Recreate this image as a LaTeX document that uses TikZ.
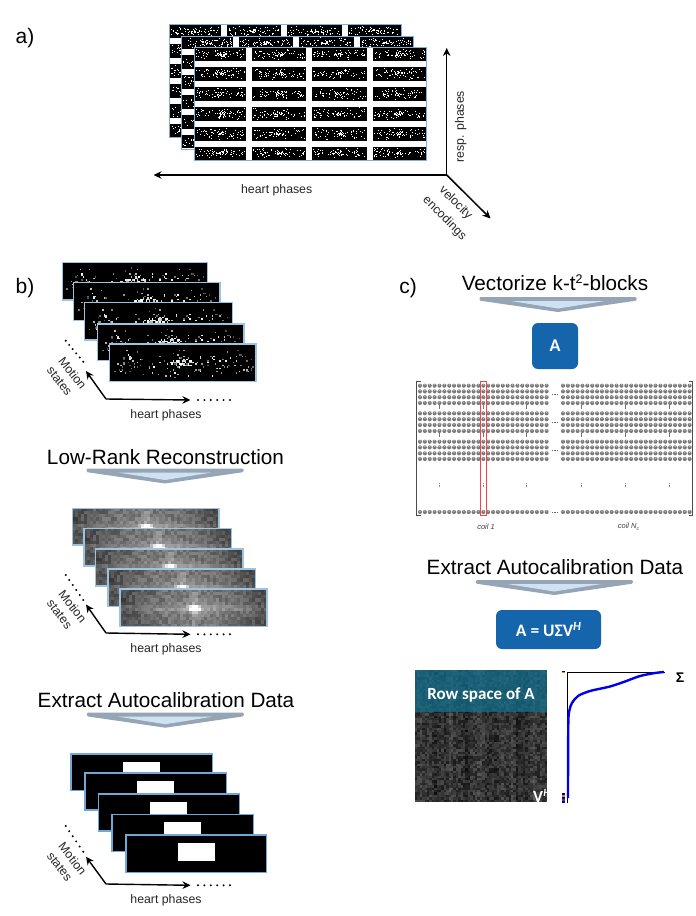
\documentclass[tikz,border=0pt]{standalone}
\usepackage{fontspec}
\setmainfont{Liberation Sans}
\newfontfamily\calib{Carlito}
\usetikzlibrary{arrows.meta,calc}
\definecolor{bbtn}{HTML}{1565AC}
\definecolor{fra}{HTML}{7FB0D8}
\definecolor{frb}{HTML}{9CC3E0}
\definecolor{frc}{HTML}{6FA8D6}
\definecolor{chevo}{HTML}{96A5B5}
\definecolor{cheve}{HTML}{CFE2F3}
\definecolor{tealo}{HTML}{12708F}
\definecolor{plotb}{HTML}{0000F0}
\tikzset{
  axisarrow/.style={line width=1.5pt,-{Stealth[length=8pt,width=7.5pt]}},
  smalltxt/.style={font=\fontsize{12.3}{14}\selectfont,inner sep=0pt,text=black!85},
  titletxt/.style={font=\fontsize{20.7}{24}\selectfont,inner sep=0pt},
  parttxt/.style={font=\fontsize{21}{24}\selectfont,inner sep=0pt},
  btn/.style={fill=bbtn,rounded corners=6pt,text=white,inner sep=0pt,font=\calib\bfseries},
  dotrow/.style={fill=black,circle,inner sep=0pt,minimum size=2.2pt}
}
% speckle: x1 y1 x2 y2 n size gmin
\newcommand\spk[7]{%
  \pgfmathsetmacro\spw{#3-#1}\pgfmathsetmacro\sph{#4-#2}%
  \foreach \k in {1,...,#5}{%
    \ifnum\k<\numexpr#5/4\relax
      \pgfmathsetmacro\ax{0.24*(rnd+rnd-1)}\pgfmathsetmacro\ay{0.4*(rnd+rnd-1)}%
      \pgfmathsetmacro\gv{min(100,#7+45+rnd*40)}%
    \else
      \pgfmathsetmacro\ax{0.98*(rnd*2-1)}\pgfmathsetmacro\ay{0.95*(rnd*2-1)*(0.45+0.55*rnd)}%
      \pgfmathsetmacro\gv{#7+rnd*(100-#7)}%
    \fi
    \pgfmathsetmacro\px{round((#1+\spw*(0.5+0.5*\ax))/#6)*#6}%
    \pgfmathsetmacro\py{round((#2+\sph*(0.5+0.5*\ay))/#6)*#6}%
    \fill[white!\gv!black] (\px,\py) rectangle ++(#6,#6);
  }}
% part a frame: x0 y0 seed backflag
\newcommand\aframe[4]{%
  \fill[white] (#1,#2) rectangle ++(232.4,113);
  \pgfmathsetseed{#3}%
  \foreach \xa/\xb/\ci in {0.7/51.7/1,57.7/111.7/2,117.7/172.3/3,178.7/231.7/4}{%
    \foreach \ya/\yb/\ri in {0.7/13/1,19.3/33/2,39.3/53/3,59.3/73/4,79.3/93/5,99.3/112/6}{%
      \fill[black] (#1+\xa,#2+\ya) rectangle (#1+\xb,#2+\yb);
      \ifnum\numexpr(#4)*(\ci-1)*(\ri-1)=0
        \pgfmathsetmacro\aax{#1+\xa}\pgfmathsetmacro\aay{#2+\ya}%
        \pgfmathsetmacro\abx{#1+\xb-1}\pgfmathsetmacro\aby{#2+\yb-1}%
        \spk{\aax}{\aay}{\abx}{\aby}{72}{1}{100}%
      \fi
    }}
  \draw[fra,line width=1pt] (#1,#2) rectangle ++(232.4,113);
}
% sparse frame (b top)
\newcommand\sframe[4]{%
  \fill[black] (#1,#2) rectangle (#3,#4);
  \pgfmathsetseed{77}%
  \pgfmathsetmacro\sxa{#1+2}\pgfmathsetmacro\sya{#2+2}\pgfmathsetmacro\sxb{#3-3}\pgfmathsetmacro\syb{#4-3}%
  \spk{\sxa}{\sya}{\sxb}{\syb}{170}{1.5}{30}%
  \draw[frb,line width=1.5pt] (#1,#2) rectangle (#3,#4);
}
% low-rank frame: x1 y1 x2 y2 backflag
\newcommand\lframe[5]{%
  \pgfmathsetseed{33}%
  \pgfmathsetmacro\cw{(#3-#1)/49}\pgfmathsetmacro\ch{(#4-#2)/12}%
  \foreach \ii in {0,...,48}{%
    \foreach \jj in {0,...,11}{%
      \pgfmathsetmacro\uu{(\ii-24.5)/24.5}\pgfmathsetmacro\vv{(\jj-5.7)/6}%
      \pgfmathsetmacro\gv{min(100,max(4,20+24*(1-abs(\uu)*abs(\uu))*(1-0.25*abs(\vv))+rnd*16+13*exp(-\vv*\vv*30)*(1-0.5*abs(\uu))+10*exp(-\uu*\uu*400)+60*exp(-\uu*\uu*150-\vv*\vv*30)))}%
      \def\lcell{\fill[white!\gv!black] (#1+\ii*\cw,#2+\jj*\ch) rectangle ++(\cw+0.1,\ch+0.1);}%
      \ifnum#5=0 \lcell\else\ifnum\ii<5 \lcell\else\ifnum\jj<7 \lcell\fi\fi\fi
    }}
  \draw[frb,line width=1.5pt] (#1,#2) rectangle (#3,#4);
}
% calib frame
\newcommand\cframe[6]{%
  \fill[black] (#1,#2) rectangle (#3,#4);
  \fill[white] (#5,#6) rectangle ++(37,18);
  \draw[frc,line width=1.5pt] (#1,#2) rectangle (#3,#4);
}
% chevron: cx ytop
\newcommand\chev[2]{%
  \fill[chevo,rounded corners=1.2pt] (#1-78.5,#2) -- (#1+78.5,#2) -- (#1+78.5,#2+3.6) -- (#1,#2+15) -- (#1-78.5,#2+3.6) -- cycle;
  \fill[cheve] (#1-47,#2+4) -- (#1+47,#2+4) -- (#1,#2+11.5) -- cycle;
}
% motion/heart mini axes
\newcommand\miniax[7]{% prefix, ycorner, yheart, ymotion, ydots-start, ydots-end, ydotsh
  \coordinate (#1o) at (106,#2);
  \coordinate (#1h) at (190.5,#3);
  \coordinate (#1m) at (86,#4);
  \draw[axisarrow,line width=1.4pt] (#1o) -- (#1h);
  \draw[axisarrow,line width=1.4pt] (#1o) -- (#1m);
  \foreach \t in {0,...,5}{%
    \node[dotrow] (#1dh\t) at (198+\t*6.4,#7) {};
    \node[dotrow] (#1dm\t) at ({65.7+\t*3.5},{#5+\t*(#6-#5)/5}) {};
  }
  \node[smalltxt,rotate=-52] (#1mot) at (72.7,#4+2) {Motion};
  \node[smalltxt,rotate=-52] (#1sta) at (59.5,#4+10) {states};
  \node[smalltxt] (#1hp) at (166,#2+16) {heart phases};
}
\begin{document}
\begin{tikzpicture}[x=1pt,y=-1pt]
\useasboundingbox (0,0) rectangle (696,916);
\fill[white] (0,0) rectangle (696,916);
% ---------- a
\node[parttxt] (la) at (25,38) {a)};
\aframe{169.3}{24.6}{11}{1}
\aframe{181.3}{36}{12}{1}
\aframe{194.3}{47.7}{13}{0}
\coordinate (ao) at (446.7,175);
\coordinate (ay) at (446.7,48);
\coordinate (ah) at (153.5,175);
\coordinate (av) at (490.5,218.5);
\draw[axisarrow] (ao) -- (ay);
\draw[axisarrow] (ao) -- (ah);
\draw[axisarrow] (ao) -- (av);
\node[smalltxt] (ahp) at (276.7,190.7) {heart phases};
\node[smalltxt,rotate=90] (arp) at (460.7,126.7) {resp. phases};
\node[smalltxt,rotate=-45] (avel) at (455.5,203) {velocity};
\node[smalltxt,rotate=-45] (aenc) at (444.5,218.5) {encodings};
% ---------- b
\node[parttxt] (lb) at (25,288) {b)};
\sframe{62.3}{262.3}{207.7}{300}
\sframe{73.3}{282.7}{220}{320.7}
\sframe{84.7}{302.7}{232.3}{340}
\sframe{97.3}{324}{244}{360.7}
\sframe{109.3}{344}{256}{381.7}
\miniax{p}{399}{400}{371}{340.7}{361.7}{400}
\node[titletxt] (t1) at (165.5,457) {Low-Rank Reconstruction};
\chev{165}{468.5}
\lframe{72.3}{508.3}{219}{545}{1}
\lframe{84}{528.3}{231.3}{566}{1}
\lframe{95.7}{549}{243}{586}{1}
\lframe{108}{569}{255.3}{606.7}{1}
\lframe{120}{589}{267}{626.7}{0}
\miniax{q}{633}{634.3}{604.5}{575}{600}{634.3}
\node[titletxt] (t2) at (166,700) {Extract Autocalibration Data};
\chev{165.3}{712.7}
\cframe{71}{754}{212.7}{790.7}{123}{762}
\cframe{85}{773}{226.7}{810}{137}{781}
\cframe{98.3}{794}{239.3}{831}{150}{802}
\cframe{112}{814.3}{253.3}{851.7}{164}{822}
\cframe{126}{835}{266.7}{872.3}{178}{843}
\miniax{r}{884}{885.3}{856.7}{826}{851.7}{885.3}
% ---------- c
\node[parttxt] (lc) at (408,288) {c)};
\node[titletxt] (t3) at (555,283) {Vectorize k-t\raisebox{7pt}{\fontsize{12.5}{12}\selectfont 2}-blocks};
\chev{558}{297}
\node[btn,minimum width=46pt,minimum height=46pt,font=\fontsize{18}{20}\calib\bfseries] (bA) at (555,346) {A};
% matrix
\fill[black!52] \foreach \yy in {385.7,391.4,397.2,403,413.3,419.2,425,431,441.7,447.4,453.3,459,512}{
  \foreach \xs in {420,563}{
    \foreach \k in {0,...,26}{
      (\xs+\k*4.87,\yy) circle (2.05)
    }}};
\fill[black!25] \foreach \yy in {385.7,391.4,397.2,403,413.3,419.2,425,431,441.7,447.4,453.3,459,512}{
  \foreach \xs in {420,563}{
    \foreach \k in {0,...,26}{
      (\xs+\k*4.87,\yy-0.9) circle (0.75)
    }}};
\draw[black!70,line width=0.8pt] (420.5,381.3) -- (416.7,381.3) -- (416.7,515.5) -- (420.5,515.5);
\draw[black!70,line width=0.8pt] (688.5,381.3) -- (692,381.3) -- (692,515.5) -- (688.5,515.5);
\foreach \xx in {439.3,483,526.7,581.7,625.7,669.3}{
  \draw[black!55,line width=0.5pt] (\xx,405) -- (\xx,409);
  \draw[black!55,line width=0.5pt] (\xx,433) -- (\xx,437);
  \draw[black!45,line width=0.5pt,densely dotted] (\xx,483) -- (\xx,487);
}
\foreach \yy in {394,422,450,512}{
  \draw[black!60,line width=0.5pt,densely dotted] (552,\yy) -- (557,\yy);
}
\draw[red!75!white,line width=0.9pt] (480.7,381.7) rectangle (486,515.7);
\node[inner sep=0pt,font=\fontsize{7.5}{9}\selectfont\itshape,text=black!75] (c1) at (486,526.8) {coil 1};
\node[inner sep=0pt,font=\fontsize{7.5}{9}\selectfont\itshape,text=black!75] (cn) at (628.5,527) {coil N\raisebox{-1.5pt}{\fontsize{5}{5}\selectfont c}};
\node[titletxt] (t4) at (555,566.7) {Extract Autocalibration Data};
\chev{554.3}{580}
\node[btn,minimum width=105pt,minimum height=39pt,font=\fontsize{17.5}{20}\calib\bfseries] (bS) at (548.5,629.5) {A = UΣV\raisebox{5.5pt}{\fontsize{12.5}{13}\selectfont\calib\bfseries\itshape H}};
% V image
\begin{scope}
\clip (415,670) rectangle (547,802);
\pgfmathsetseed{5}
\foreach \ii in {0,...,54}{
  \pgfmathsetmacro\colb{8+rnd*4+3*sin(\ii*31)+2*sin(\ii*83)}
  \foreach \jj in {0,...,54}{
    \pgfmathsetmacro\gv{\colb+rnd*20}
    \fill[white!\gv!black] (415+\ii*2.4,670+\jj*2.4) rectangle ++(2.45,2.45);
  }}
\fill[tealo,opacity=0.72] (415,670) rectangle (547,712);
\node[inner sep=0pt,text=white,font=\fontsize{17}{20}\calib\bfseries] (rsp) at (481,695) {Row space of A};
\node[inner sep=0pt,text=white,anchor=west,font=\fontsize{17}{20}\calib\bfseries] (vh) at (533,796) {V\raisebox{6pt}{\fontsize{11}{11}\selectfont\itshape H}};
\end{scope}
% plot
\coordinate (po) at (567.3,672);
\coordinate (pb) at (567.3,803);
\coordinate (pr) at (664.5,672);
\draw[black,line width=0.9pt] (pb) -- (po) -- (pr);
\draw[plotb,line width=2.4pt] plot[smooth,tension=0.5] coordinates {(664,672) (655,673) (640,676) (625,681.5) (610,686.5) (590,691) (578,696) (572,703) (569.5,710) (568.3,724) (568,798)};
\fill[blue!70!black] (561.5,670.5) rectangle (564.5,671.5);
\fill[orange] (561.5,671.5) rectangle (564.5,672.5);
\foreach \yy/\cc in {793/blue!70!black,795/orange,797/blue!70!black,799/black!70,801/blue!70!black}{
  \fill[\cc] (561.5,\yy) rectangle (564.5,\yy+1.6);
}
\node[inner sep=0pt,font=\fontsize{14}{16}\selectfont\bfseries] (sig) at (680,678) {Σ};
\end{tikzpicture}
\end{document}
